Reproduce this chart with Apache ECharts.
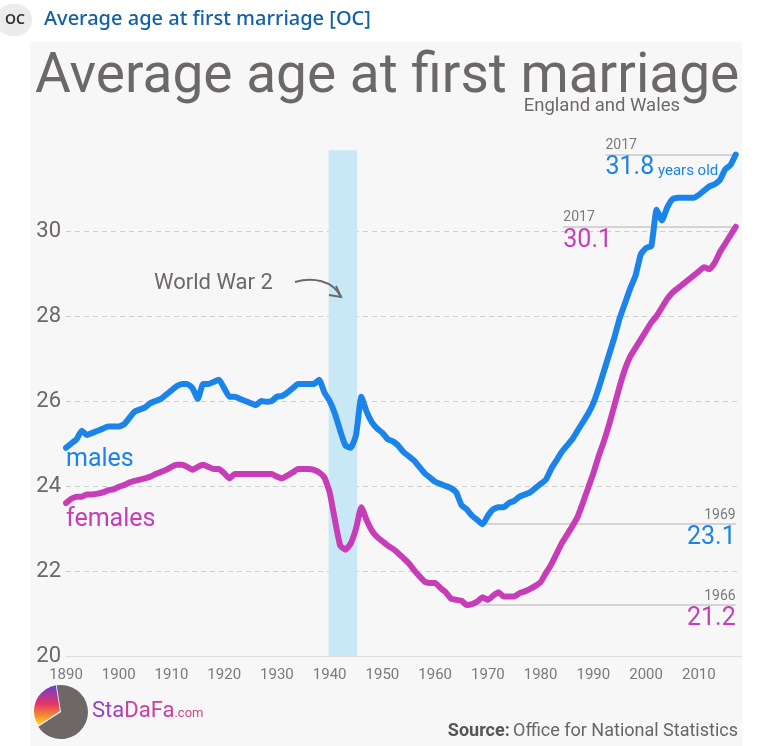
<!DOCTYPE html>
<html><head><meta charset="utf-8">
<script src="https://cdn.jsdelivr.net/npm/echarts@6/dist/echarts.min.js"></script>
<style>html,body{margin:0;padding:0;background:#fff}#c{width:768px;height:746px}</style>
</head><body><div id="c"></div>
<script>
const years = [
 1890,1891,1892,1893,1894,1895,1896,1897,1898,1899,
 1900,1901,1902,1903,1904,1905,1906,1907,1908,1909,
 1910,1911,1912,1913,1914,1915,1916,1917,1918,1919,
 1920,1921,1922,1923,1924,1925,1926,1927,1928,1929,
 1930,1931,1932,1933,1934,1935,1936,1937,1938,1939,
 1940,1941,1942,1943,1944,1945,1946,1947,1948,1949,
 1950,1951,1952,1953,1954,1955,1956,1957,1958,1959,
 1960,1961,1962,1963,1964,1965,1966,1967,1968,1969,
 1970,1971,1972,1973,1974,1975,1976,1977,1978,1979,
 1980,1981,1982,1983,1984,1985,1986,1987,1988,1989,
 1990,1991,1992,1993,1994,1995,1996,1997,1998,1999,
 2000,2001,2002,2003,2004,2005,2006,2007,2008,2009,
 2010,2011,2012,2013,2014,2015,2016,2017];
const males = [
 24.9,25.0,25.1,25.3,25.2,25.25,25.3,25.35,25.4,25.4,
 25.4,25.45,25.6,25.75,25.8,25.85,25.95,26.0,26.05,26.15,
 26.25,26.35,26.4,26.4,26.3,26.05,26.4,26.4,26.45,26.5,
 26.3,26.1,26.1,26.05,26.0,25.95,25.9,26.0,25.98,26.0,
 26.1,26.12,26.2,26.3,26.4,26.4,26.4,26.4,26.5,26.2,
 26.0,25.7,25.3,24.95,24.9,25.2,26.1,25.75,25.5,25.35,
 25.25,25.1,25.05,24.95,24.8,24.7,24.6,24.45,24.3,24.2,
 24.1,24.05,24.0,23.95,23.85,23.55,23.45,23.3,23.2,23.1,
 23.3,23.45,23.5,23.5,23.6,23.65,23.75,23.8,23.85,23.95,
 24.05,24.15,24.4,24.6,24.8,24.95,25.1,25.3,25.5,25.7,
 25.95,26.3,26.7,27.1,27.5,27.95,28.3,28.65,28.95,29.45,
 29.6,29.65,30.5,30.25,30.55,30.75,30.78,30.78,30.78,30.78,
 30.85,30.95,31.05,31.1,31.2,31.45,31.55,31.8];
const females = [
 23.6,23.7,23.75,23.75,23.8,23.8,23.82,23.85,23.9,23.92,
 23.98,24.02,24.08,24.12,24.15,24.18,24.22,24.28,24.33,24.38,
 24.45,24.5,24.5,24.45,24.38,24.45,24.5,24.45,24.4,24.4,
 24.3,24.18,24.28,24.28,24.28,24.28,24.28,24.28,24.28,24.28,
 24.22,24.18,24.25,24.32,24.4,24.4,24.4,24.38,24.32,24.2,
 23.85,23.2,22.6,22.5,22.65,23.0,23.5,23.2,22.95,22.8,
 22.7,22.6,22.52,22.42,22.3,22.18,22.02,21.88,21.75,21.72,
 21.72,21.6,21.5,21.35,21.32,21.3,21.2,21.22,21.28,21.38,
 21.32,21.42,21.5,21.4,21.4,21.4,21.48,21.52,21.58,21.65,
 21.74,21.95,22.15,22.4,22.65,22.85,23.05,23.27,23.6,23.95,
 24.3,24.7,25.05,25.45,25.9,26.35,26.75,27.05,27.25,27.45,
 27.65,27.85,28.0,28.2,28.4,28.55,28.65,28.75,28.85,28.95,
 29.05,29.15,29.1,29.25,29.5,29.7,29.9,30.1];
const yTicks = [20, 22, 24, 26, 28, 30];
const xTicks = [1890,1900,1910,1920,1930,1940,1950,1960,1970,1980,1990,2000,2010];
const warYears = [1939.8, 1945.2];
// annotations: [startYear, endYear, value, yearText, valueText]
const maleMax = [1992.3, 2017, 31.8, '2017', '31.8'];
const femaleMax = [1984.3, 2017, 30.1, '2017', '30.1'];
const maleMin = [1969, 2017, 23.1, '1969', '23.1'];
const femaleMin = [1966, 2017, 21.2, '1966', '21.2'];
const labelMales = [1890, 24.62, 'males'];
const labelFemales = [1890, 23.2, 'females'];

const BLUE = '#1a84ea', PINK = '#c73db8', GREY = '#6d6868';
const FONT = 'Roboto';

function pairs(vals) { return years.map((y, i) => [y, vals[i]]); }
function annLines(a, color, left) {
  const top = [{coord: [a[0], a[2]], lineStyle: {color: '#c9c9c9', width: 1.5},
    label: {show: true, position: left ? 'insideStartTop' : 'insideEndTop', formatter: a[3],
      color: '#7a7a7a', fontSize: 14, fontFamily: FONT, distance: [0, 2]}}, {coord: [a[1], a[2]]}];
  const bot = [{coord: [a[0], a[2]], lineStyle: {color: 'rgba(0,0,0,0)', width: 0.1},
    label: {show: true, position: left ? 'insideStartBottom' : 'insideEndBottom',
      formatter: left && color === BLUE ? '{v|' + a[4] + '}{u| years old}' : '{v|' + a[4] + '}',
      distance: [0, 1], opacity: 1,
      rich: {v: {fontSize: 25, color: color, fontFamily: FONT}, u: {fontSize: 15, color: color, fontFamily: FONT, padding: [6, 0, 0, 0]}}}},
    {coord: [a[1], a[2]]}];
  return [top, bot];
}

const chart = echarts.init(document.getElementById('c'));
chart.setOption({
  backgroundColor: '#ffffff',
  animation: false,
  textStyle: {fontFamily: FONT},
  grid: {left: 66, right: 27, top: 146, bottom: 90},
  xAxis: {
    type: 'value', min: 1890, max: 2018, interval: 10,
    axisLine: {show: true, lineStyle: {color: '#dcdcdc', width: 1}},
    axisTick: {show: false},
    splitLine: {show: false},
    axisLabel: {color: '#7a7a7a', fontSize: 15, margin: 12, fontFamily: FONT,
      formatter: v => xTicks.indexOf(v) >= 0 ? String(v) : ''}
  },
  yAxis: {
    type: 'value', min: 20, max: 32, interval: 2,
    axisLine: {show: false}, axisTick: {show: false},
    axisLabel: {color: GREY, fontSize: 22, margin: 5, fontFamily: FONT,
      formatter: v => yTicks.indexOf(v) >= 0 ? String(v) : ''},
    splitLine: {show: true, lineStyle: {type: [5, 4], width: 1,
      color: ['rgba(0,0,0,0)', '#cfcfcf', '#cfcfcf', '#cfcfcf', '#cfcfcf', '#cfcfcf', 'rgba(0,0,0,0)']}}
  },
  graphic: [
    {type: 'rect', z: -100, shape: {x: 30, y: 42, width: 712, height: 704}, style: {fill: '#f7f7f7'}},
    {type: 'rect', z: 10, shape: {x: -4, y: 4, width: 36, height: 32, r: 16}, style: {fill: '#ececec'}},
    {type: 'text', z: 10, style: {x: 15, y: 20, text: 'OC', fontSize: 14, fontWeight: 600, fill: '#333', fontFamily: 'Noto Sans', align: 'center', verticalAlign: 'middle'}},
    {type: 'text', z: 10, style: {x: 44, y: 19, text: 'Average age at first marriage [OC]', fontSize: 20, fontWeight: 500, fill: '#1160a8', fontFamily: 'Noto Sans', verticalAlign: 'middle'}},
    {type: 'text', z: 10, style: {x: 35, y: 78, text: 'Average age at first marriage', fontSize: 55, fill: GREY, fontFamily: FONT, verticalAlign: 'middle'}},
    {type: 'text', z: 10, style: {x: 680, y: 106, text: 'England and Wales', fontSize: 18.5, fill: GREY, fontFamily: FONT, align: 'right', verticalAlign: 'middle'}},
    {type: 'text', z: 10, style: {x: 154, y: 283, text: 'World War 2', fontSize: 22, fill: GREY, fontFamily: FONT, verticalAlign: 'middle'}},
    {type: 'bezierCurve', z: 10, shape: {x1: 295, y1: 282, cpx1: 312, cpy1: 277, cpx2: 333, cpy2: 280, x2: 341, y2: 297}, style: {stroke: GREY, lineWidth: 2, fill: null}},
    {type: 'polyline', z: 10, shape: {points: [[336, 286], [341, 297], [329, 295]]}, style: {stroke: GREY, lineWidth: 2, fill: null}},
    {type: 'sector', z: 10, shape: {cx: 61, cy: 712, r: 27, r0: 0, startAngle: 4.55, endAngle: 8.85}, style: {fill: '#6e6767'}},
    {type: 'sector', z: 10, shape: {cx: 60, cy: 711, r: 26, r0: 0, startAngle: 2.55, endAngle: 4.55},
      style: {fill: new echarts.graphic.LinearGradient(0, 0, 0, 1, [{offset: 0, color: '#6a3fd0'}, {offset: 0.45, color: '#e2336a'}, {offset: 0.8, color: '#f59a23'}, {offset: 1, color: '#ffd84a'}])}},
    {type: 'text', z: 10, style: {x: 92, y: 711, text: '{a|Sta}{b|DaFa}{c|.com}', verticalAlign: 'middle',
      rich: {a: {fontSize: 22, fontFamily: FONT, fill: '#9a3fc0'}, b: {fontSize: 22, fontFamily: FONT, fill: '#c93fa0'},
             c: {fontSize: 13, fontFamily: FONT, fill: '#d4458a', padding: [6, 0, 0, 0]}}}},
    {type: 'text', z: 10, style: {x: 738, y: 731, text: '{b|Source:} {r|Office for National Statistics}', align: 'right', verticalAlign: 'middle',
      rich: {b: {fontSize: 18, fontWeight: 'bold', fill: '#555', fontFamily: FONT}, r: {fontSize: 18, fill: '#666', fontFamily: FONT}}}}
  ],
  series: [
    {type: 'line', data: [], z: 1, silent: true,
     markArea: {silent: true, itemStyle: {color: '#c9e8f5'}, data: [[{xAxis: warYears[0], yAxis: 20}, {xAxis: warYears[1], yAxis: 31.9}]]}},
    {name: 'males', type: 'line', data: pairs(males), z: 3, symbol: 'none', smooth: 0.15,
     lineStyle: {color: BLUE, width: 6, cap: 'round', join: 'round'},
     markLine: {silent: true, symbol: 'none', z: 2, lineStyle: {color: '#c9c9c9', width: 1.5, type: 'solid'},
       data: annLines(maleMax, BLUE, true).concat(annLines(maleMin, BLUE, false))},
     markPoint: {silent: true, symbol: 'circle', symbolSize: 0, data: [{coord: [labelMales[0], labelMales[1]],
       label: {show: true, formatter: labelMales[2], position: 'inside', align: 'left', color: BLUE, fontSize: 25, fontFamily: FONT}}]}},
    {name: 'females', type: 'line', data: pairs(females), z: 3, symbol: 'none', smooth: 0.15,
     lineStyle: {color: PINK, width: 6, cap: 'round', join: 'round'},
     markLine: {silent: true, symbol: 'none', z: 2, lineStyle: {color: '#c9c9c9', width: 1.5, type: 'solid'},
       data: annLines(femaleMax, PINK, true).concat(annLines(femaleMin, PINK, false))},
     markPoint: {silent: true, symbol: 'circle', symbolSize: 0, data: [{coord: [labelFemales[0], labelFemales[1]],
       label: {show: true, formatter: labelFemales[2], position: 'inside', align: 'left', color: PINK, fontSize: 25, fontFamily: FONT}}]}}
  ]
});
</script></body></html>
